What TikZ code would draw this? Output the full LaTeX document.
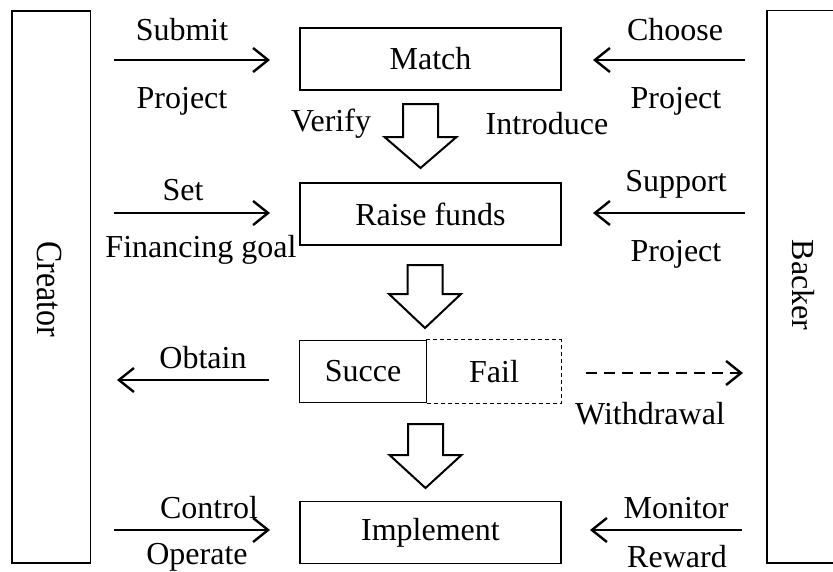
\documentclass[tikz,border=0pt]{standalone}
\usepackage{fontspec}
\setmainfont{Liberation Serif}
\usetikzlibrary{arrows.meta}
\begin{document}
\begin{tikzpicture}[x=1pt,y=-1pt,
  box/.style={draw,line width=1.3pt,minimum width=261pt,minimum height=62pt,inner sep=0pt},
  lbl/.style={inner sep=0pt,anchor=center},
  flow/.style={line width=2.6pt,-{Straight Barb[length=15pt,width=24pt,line width=2.4pt]}},
  dflow/.style={flow,dash pattern=on 11pt off 7pt},
  blk/.style={draw,line width=2pt,fill=white,line join=miter},
  every node/.style={font=\fontsize{32}{38}\selectfont}]
\useasboundingbox (0,0) rectangle (833,571);
% side boxes
\node[draw,line width=1.3pt,minimum width=78.5pt,minimum height=552pt,inner sep=0pt] (creator) at (51.25,287) {};
\node[rotate=-90,lbl] (creatortxt) at (50,289) {\scalebox{1}[1.15]{Creator}};
\coordinate (bk1) at (850,10.5);
\coordinate (bk2) at (767,10.5);
\coordinate (bk3) at (767,563);
\coordinate (bk4) at (850,563);
\draw[line width=1.3pt] (bk1) -- (bk2) -- (bk3) -- (bk4);
\node[rotate=-90,lbl] (backer) at (803,285) {Backer};
% central boxes
\node[box] (match) at (430.5,59) {Match};
\node[box] (raise) at (430.5,214) {Raise funds};
\node[box,draw=none,minimum width=134pt] (fail) at (494,371.5) {Fail};
\draw[line width=1.2pt,dash pattern=on 4pt off 3pt] (fail.north west) -- (fail.north east) -- (fail.south east) -- (fail.south west);
\node[box,minimum width=127pt] (succ) at (363,371.5) {Succe};
\node[box] (impl) at (430.5,532.5) {Implement};
% block arrows: center x, top y, wing y, tip y
\newcommand{\blockarrow}[4]{%
  \draw[blk] (#1-17.5,#2) -- (#1+17.5,#2) -- (#1+17.5,#3) -- (#1+36,#3) -- (#1,#4) -- (#1-36,#3) -- (#1-17.5,#3) -- cycle;}
\blockarrow{420.5}{104}{137}{168}
\blockarrow{425}{265}{294}{328}
\blockarrow{425.5}{424}{455}{488}
% coordinates for arrows
\coordinate (a1s) at (114,60); \coordinate (a1e) at (270,60);
\coordinate (a2s) at (745,60); \coordinate (a2e) at (593,60);
\coordinate (a3s) at (114,213); \coordinate (a3e) at (270,213);
\coordinate (a4s) at (745,213); \coordinate (a4e) at (593,213);
\coordinate (a5s) at (269,380); \coordinate (a5e) at (117,380);
\coordinate (a6s) at (586,373); \coordinate (a6e) at (743,373);
\coordinate (a7s) at (114,530); \coordinate (a7e) at (270,530);
\coordinate (a8s) at (742,530); \coordinate (a8e) at (590,530);
\draw[flow] (a1s) -- (a1e);
\draw[flow] (a2s) -- (a2e);
\draw[flow] (a3s) -- (a3e);
\draw[flow] (a4s) -- (a4e);
\draw[flow] (a5s) -- (a5e);
\draw[dflow] (a6s) -- (a6e);
\draw[flow] (a7s) -- (a7e);
\draw[flow] (a8s) -- (a8e);
% labels
\node[lbl] (t1) at (182,30) {Submit};
\node[lbl] (t2) at (182,101) {Project};
\node[lbl] (t3) at (675,30) {Choose};
\node[lbl] (t4) at (676,101) {Project};
\node[lbl] (t5) at (331,124) {Verify};
\node[lbl] (t6) at (547,124) {Introduce};
\node[lbl] (t7) at (183,190) {Set};
\node[lbl] (t8) at (201,250) {Financing goal};
\node[lbl] (t9) at (676,184) {Support};
\node[lbl] (t10) at (676,254) {Project};
\node[lbl] (t11) at (203,358) {Obtain};
\node[lbl] (t12) at (650,414) {Withdrawal};
\node[lbl] (t13) at (209,508) {Control};
\node[lbl] (t14) at (197,557) {Operate};
\node[lbl] (t15) at (676,508) {Monitor};
\node[lbl] (t16) at (677,557) {Reward};
\end{tikzpicture}
\end{document}
